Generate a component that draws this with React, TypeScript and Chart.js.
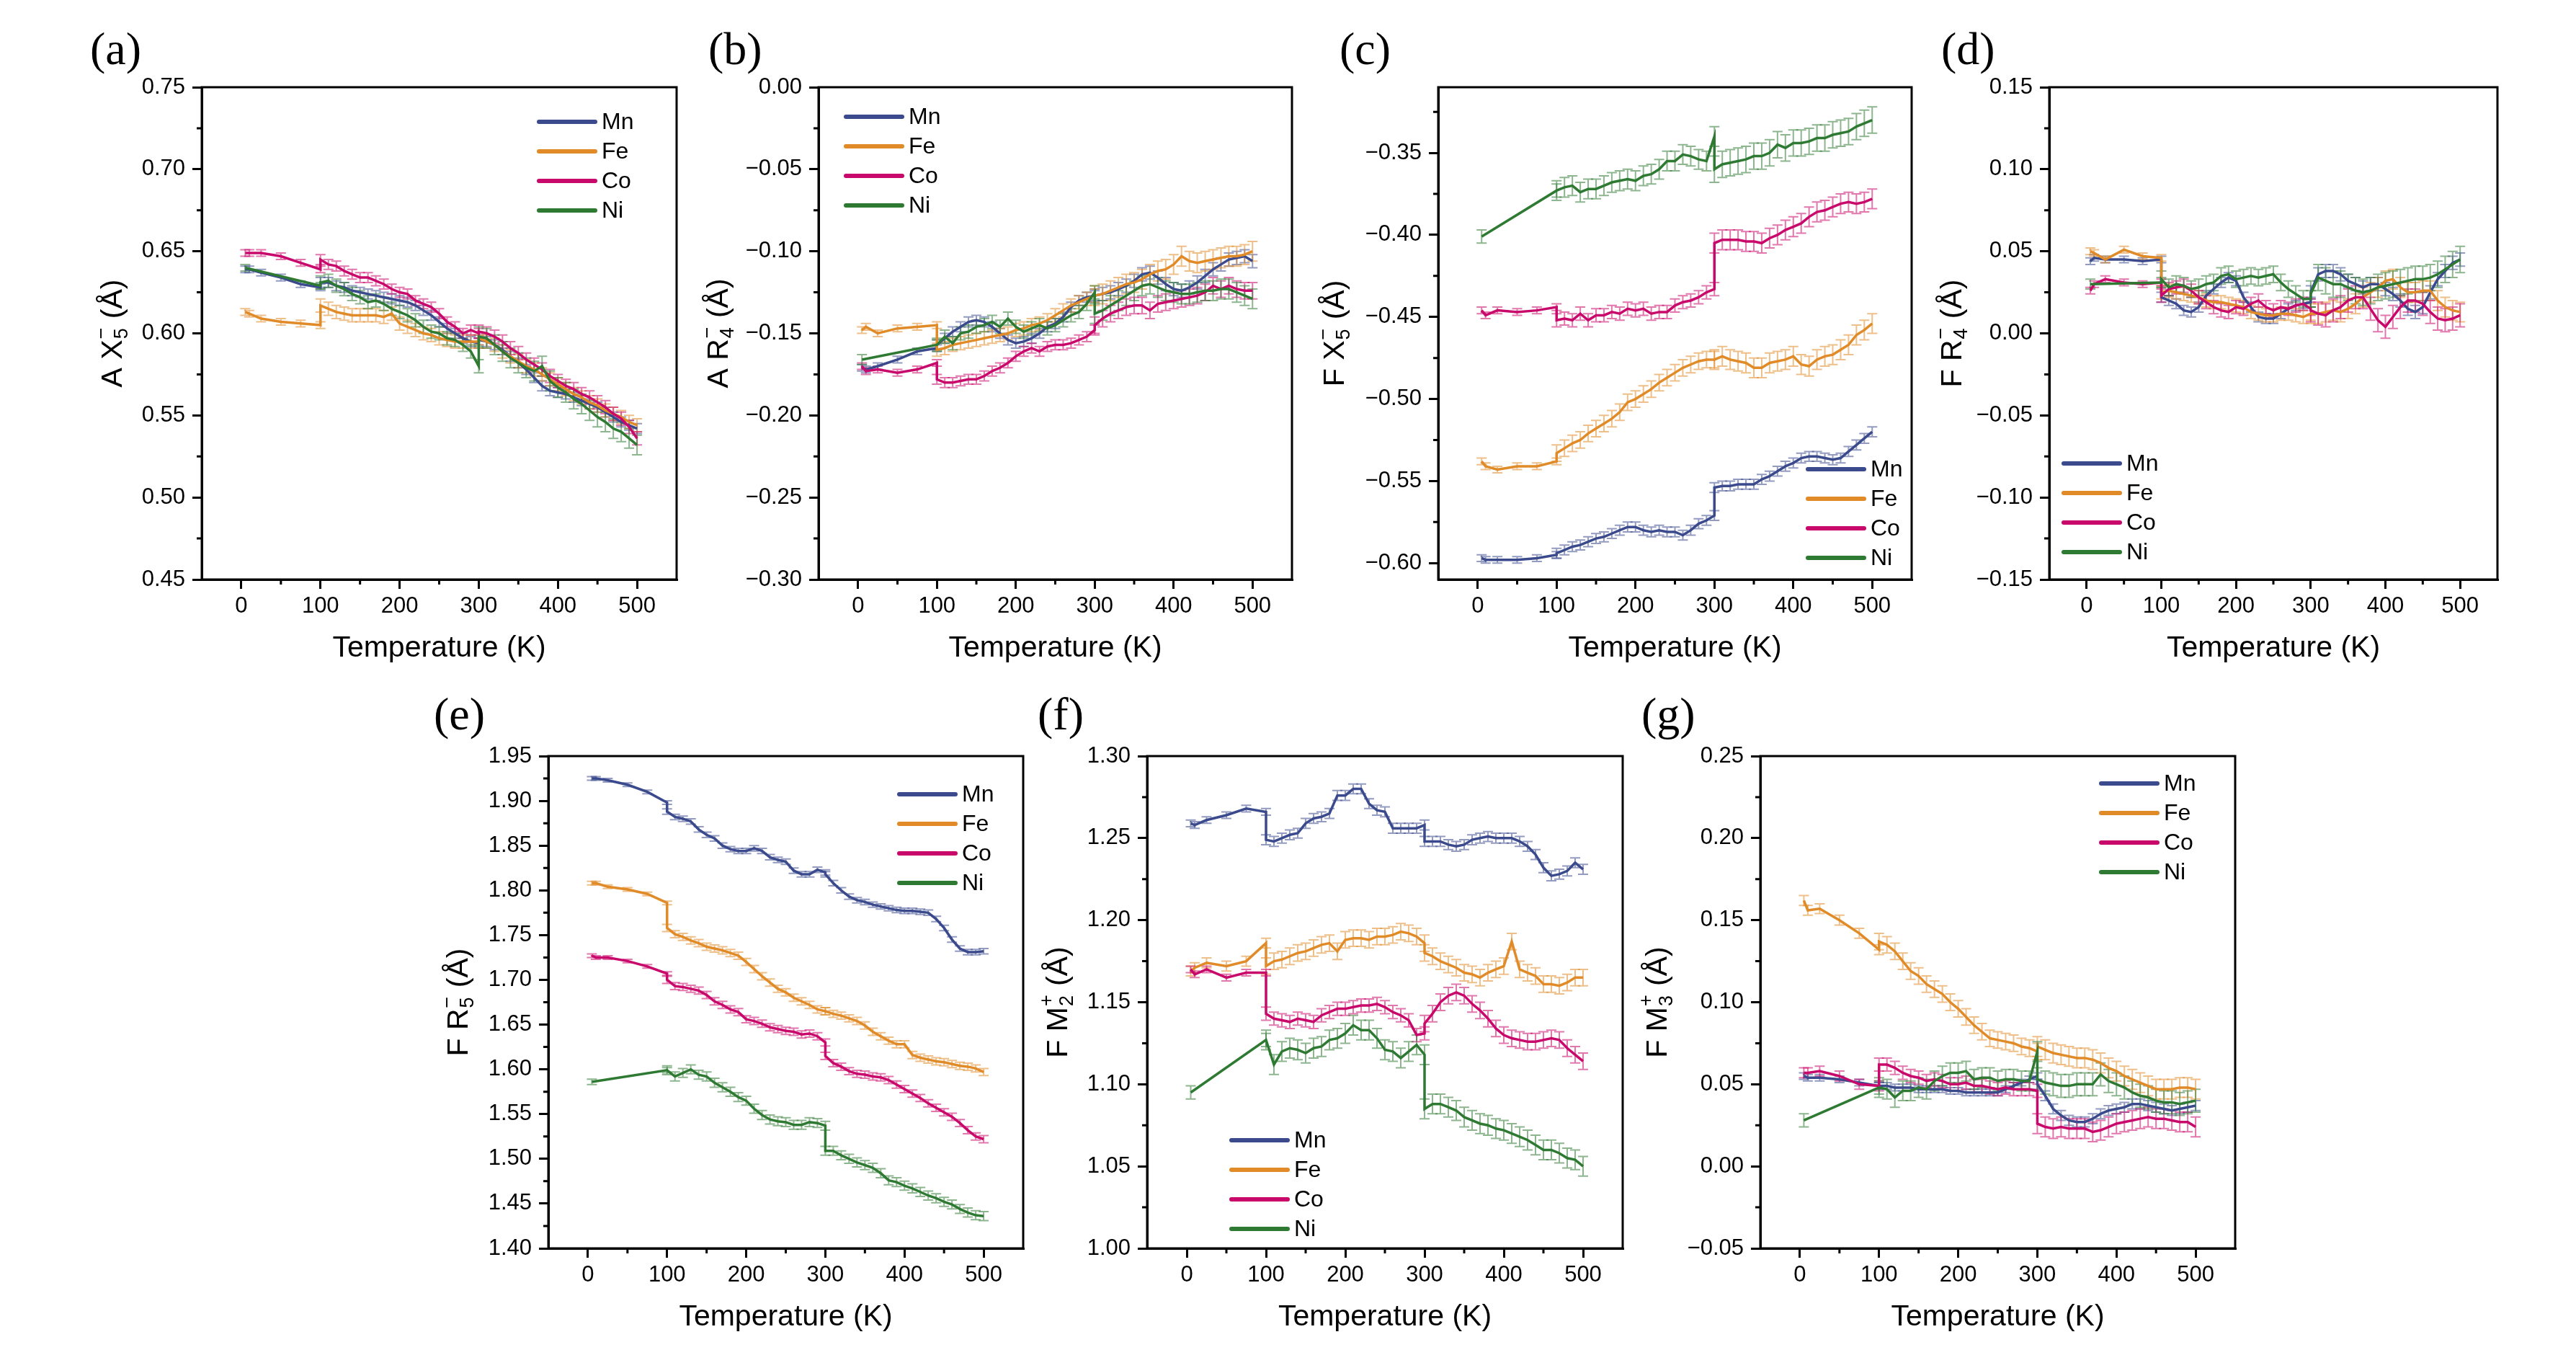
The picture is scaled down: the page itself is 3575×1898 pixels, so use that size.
import React, { useEffect, useRef } from "react";
import { Chart, registerables } from "chart.js";
Chart.register(...registerables);

// ---------- data ----------
const T = [5, 10, 25, 50, 75, 100,
  100, 110, 120, 130, 140, 150, 160, 170, 180, 190, 200, 210, 220, 230, 240, 250, 260, 270, 280, 290, 300,
  300, 310, 320, 330, 340, 350, 360, 370, 380, 390, 400, 410, 420, 430, 440, 450, 460, 470, 480, 490, 500];

const NAMES = ["Mn", "Fe", "Co", "Ni"];
const COLORS = ["#3a4a8c", "#e08a28", "#c8086a", "#2f7a33"];
const X_TICKS = [0, 100, 200, 300, 400, 500];

// (a) A X5-
const aMn = [0.639, 0.639, 0.637, 0.634, 0.630, 0.628, 0.631, 0.631, 0.629, 0.628, 0.626, 0.625, 0.624, 0.623, 0.622, 0.621, 0.620, 0.619, 0.617, 0.614, 0.611, 0.607, 0.603, 0.600, 0.597, 0.595, 0.594, 0.596, 0.595, 0.593, 0.590, 0.586, 0.582, 0.578, 0.573, 0.568, 0.565, 0.564, 0.563, 0.561, 0.559, 0.557, 0.555, 0.552, 0.549, 0.546, 0.544, 0.542];
const aFe = [0.613, 0.612, 0.609, 0.607, 0.606, 0.605, 0.617, 0.615, 0.613, 0.612, 0.611, 0.611, 0.611, 0.611, 0.610, 0.612, 0.606, 0.604, 0.602, 0.600, 0.599, 0.597, 0.596, 0.595, 0.595, 0.595, 0.595, 0.597, 0.595, 0.593, 0.589, 0.586, 0.583, 0.580, 0.578, 0.575, 0.572, 0.569, 0.566, 0.563, 0.561, 0.558, 0.556, 0.553, 0.551, 0.549, 0.546, 0.544];
const aCo = [0.649, 0.649, 0.649, 0.647, 0.643, 0.639, 0.645, 0.642, 0.641, 0.638, 0.636, 0.634, 0.634, 0.632, 0.630, 0.627, 0.625, 0.624, 0.620, 0.618, 0.616, 0.612, 0.607, 0.604, 0.600, 0.602, 0.600, 0.601, 0.600, 0.598, 0.595, 0.591, 0.588, 0.584, 0.581, 0.578, 0.574, 0.571, 0.568, 0.566, 0.563, 0.561, 0.558, 0.555, 0.551, 0.548, 0.543, 0.536];
const aNi = [0.640, null, null, null, null, 0.629, 0.631, 0.632, 0.629, 0.627, 0.624, 0.622, 0.619, 0.620, 0.618, 0.615, 0.613, 0.611, 0.608, 0.604, 0.601, 0.600, 0.597, 0.596, 0.593, 0.589, 0.580, 0.598, 0.597, 0.593, 0.589, 0.585, 0.582, 0.579, 0.577, 0.580, 0.571, 0.567, 0.564, 0.560, 0.557, 0.553, 0.549, 0.546, 0.542, 0.540, 0.536, 0.532];
const aErr = [[0.002, 0.003, 0.003], [0.002, 0.004, 0.004], [0.002, 0.003, 0.004], [0.002, 0.004, 0.006]];
const aTicks = [0.45, 0.50, 0.55, 0.60, 0.65, 0.70, 0.75];

// (b) A R4-
const bMn = [-0.171, -0.172, -0.170, -0.166, -0.161, -0.159, -0.157, -0.153, -0.149, -0.146, -0.143, -0.142, -0.143, -0.146, -0.150, -0.154, -0.156, -0.155, -0.153, -0.150, -0.146, -0.144, -0.140, -0.134, -0.130, -0.128, -0.127, -0.127, -0.126, -0.125, -0.123, -0.121, -0.118, -0.114, -0.113, -0.116, -0.120, -0.123, -0.124, -0.122, -0.119, -0.115, -0.111, -0.108, -0.105, -0.104, -0.103, -0.106];
const bFe = [-0.148, -0.146, -0.150, -0.147, -0.146, -0.145, -0.160, -0.159, -0.157, -0.156, -0.155, -0.154, -0.153, -0.152, -0.151, -0.150, -0.148, -0.147, -0.145, -0.144, -0.142, -0.139, -0.136, -0.133, -0.131, -0.129, -0.127, -0.127, -0.126, -0.124, -0.122, -0.120, -0.119, -0.117, -0.114, -0.112, -0.111, -0.108, -0.103, -0.106, -0.107, -0.106, -0.105, -0.104, -0.103, -0.103, -0.102, -0.100];
const bCo = [-0.170, -0.173, -0.172, -0.174, -0.172, -0.168, -0.178, -0.180, -0.180, -0.179, -0.178, -0.178, -0.176, -0.173, -0.171, -0.168, -0.164, -0.161, -0.159, -0.161, -0.158, -0.157, -0.157, -0.156, -0.154, -0.152, -0.148, -0.145, -0.141, -0.138, -0.136, -0.134, -0.133, -0.133, -0.136, -0.132, -0.131, -0.130, -0.129, -0.128, -0.127, -0.125, -0.121, -0.123, -0.121, -0.123, -0.124, -0.124];
const bNi = [-0.166, null, null, null, null, -0.157, -0.157, -0.152, -0.156, -0.150, -0.149, -0.146, -0.145, -0.143, -0.146, -0.141, -0.146, -0.149, -0.147, -0.145, -0.147, -0.145, -0.142, -0.139, -0.137, -0.132, -0.125, -0.138, -0.136, -0.133, -0.130, -0.127, -0.124, -0.121, -0.120, -0.122, -0.124, -0.125, -0.126, -0.126, -0.125, -0.124, -0.124, -0.123, -0.123, -0.125, -0.127, -0.129];
const bErr = [[0.002, 0.003, 0.004], [0.002, 0.004, 0.006], [0.002, 0.003, 0.005], [0.003, 0.004, 0.006]];
const bTicks = [-0.30, -0.25, -0.20, -0.15, -0.10, -0.05, 0.00];

// (c) F X5-
const cMn = [-0.597, -0.598, -0.598, -0.598, -0.597, -0.595, -0.594, -0.592, -0.590, -0.589, -0.587, -0.585, -0.584, -0.582, -0.580, -0.578, -0.578, -0.580, -0.581, -0.580, -0.581, -0.581, -0.583, -0.580, -0.576, -0.574, -0.571, -0.554, -0.553, -0.553, -0.552, -0.552, -0.552, -0.549, -0.547, -0.544, -0.541, -0.539, -0.536, -0.535, -0.535, -0.536, -0.537, -0.536, -0.532, -0.528, -0.524, -0.520];
const cFe = [-0.538, -0.541, -0.543, -0.541, -0.541, -0.538, -0.533, -0.530, -0.527, -0.525, -0.521, -0.518, -0.515, -0.512, -0.508, -0.502, -0.500, -0.497, -0.494, -0.490, -0.487, -0.484, -0.481, -0.479, -0.477, -0.476, -0.476, -0.476, -0.474, -0.476, -0.477, -0.478, -0.481, -0.481, -0.478, -0.477, -0.476, -0.474, -0.479, -0.480, -0.476, -0.474, -0.473, -0.470, -0.467, -0.461, -0.458, -0.454];
const cCo = [-0.446, -0.449, -0.446, -0.447, -0.446, -0.444, -0.452, -0.451, -0.452, -0.448, -0.452, -0.449, -0.449, -0.447, -0.448, -0.445, -0.446, -0.445, -0.448, -0.447, -0.447, -0.443, -0.441, -0.440, -0.438, -0.435, -0.433, -0.405, -0.403, -0.403, -0.403, -0.404, -0.404, -0.405, -0.402, -0.400, -0.397, -0.395, -0.393, -0.389, -0.386, -0.385, -0.383, -0.381, -0.380, -0.381, -0.380, -0.378];
const cNi = [-0.401, null, null, null, null, -0.373, -0.373, -0.371, -0.370, -0.374, -0.372, -0.372, -0.370, -0.368, -0.367, -0.366, -0.367, -0.364, -0.363, -0.360, -0.355, -0.355, -0.351, -0.352, -0.354, -0.355, -0.340, -0.360, -0.357, -0.356, -0.355, -0.354, -0.352, -0.352, -0.350, -0.345, -0.347, -0.344, -0.344, -0.343, -0.341, -0.341, -0.339, -0.338, -0.337, -0.334, -0.332, -0.330];
const cErr = [[0.002, 0.003, 0.003], [0.002, 0.005, 0.006], [0.002, 0.004, 0.006], [0.004, 0.006, 0.008]];
const cTicks = [-0.60, -0.55, -0.50, -0.45, -0.40, -0.35];

// (d) F R4-
const dMn = [0.044, 0.046, 0.045, 0.045, 0.044, 0.045, 0.022, 0.020, 0.018, 0.014, 0.013, 0.016, 0.023, 0.027, 0.031, 0.034, 0.032, 0.022, 0.016, 0.010, 0.009, 0.009, 0.012, 0.015, 0.017, 0.018, 0.019, 0.025, 0.036, 0.038, 0.038, 0.036, 0.032, 0.030, 0.028, 0.030, 0.030, 0.027, 0.024, 0.020, 0.015, 0.013, 0.016, 0.025, 0.033, 0.038, 0.043, 0.045];
const dFe = [0.050, 0.049, 0.045, 0.051, 0.047, 0.046, 0.025, 0.026, 0.025, 0.024, 0.023, 0.022, 0.020, 0.019, 0.019, 0.018, 0.017, 0.016, 0.013, 0.012, 0.011, 0.011, 0.012, 0.012, 0.011, 0.010, 0.012, 0.012, 0.012, 0.013, 0.014, 0.013, 0.015, 0.018, 0.022, 0.025, 0.028, 0.032, 0.033, 0.028, 0.025, 0.025, 0.026, 0.026, 0.020, 0.016, 0.014, 0.013];
const dCo = [0.026, 0.030, 0.033, 0.031, 0.030, 0.031, 0.023, 0.027, 0.028, 0.029, 0.026, 0.022, 0.019, 0.016, 0.014, 0.013, 0.016, 0.015, 0.018, 0.020, 0.016, 0.014, 0.016, 0.015, 0.017, 0.018, 0.015, 0.014, 0.012, 0.011, 0.014, 0.016, 0.020, 0.022, 0.022, 0.015, 0.008, 0.004, 0.010, 0.016, 0.020, 0.020, 0.018, 0.013, 0.009, 0.008, 0.009, 0.011];
const dNi = [0.030, null, null, null, null, 0.031, 0.033, 0.028, 0.030, 0.029, 0.027, 0.028, 0.030, 0.031, 0.035, 0.036, 0.033, 0.034, 0.035, 0.034, 0.035, 0.036, 0.031, 0.027, 0.024, 0.021, 0.021, 0.024, 0.034, 0.032, 0.030, 0.030, 0.028, 0.026, 0.025, 0.026, 0.028, 0.029, 0.030, 0.031, 0.032, 0.033, 0.033, 0.034, 0.036, 0.039, 0.042, 0.045];
const dErr = [[0.002, 0.003, 0.004], [0.002, 0.004, 0.006], [0.002, 0.004, 0.007], [0.003, 0.005, 0.008]];
const dTicks = [-0.15, -0.10, -0.05, 0.00, 0.05, 0.10, 0.15];

// (e) F R5-
const eMn = [1.925, 1.925, 1.923, 1.918, 1.910, 1.898, 1.888, 1.882, 1.880, 1.877, 1.868, 1.862, 1.858, 1.850, 1.846, 1.844, 1.844, 1.847, 1.844, 1.837, 1.834, 1.832, 1.822, 1.818, 1.818, 1.823, 1.820, 1.818, 1.808, 1.800, 1.793, 1.789, 1.787, 1.784, 1.782, 1.780, 1.778, 1.777, 1.777, 1.776, 1.775, 1.768, 1.758, 1.745, 1.735, 1.731, 1.731, 1.732];
const eFe = [1.808, 1.808, 1.804, 1.801, 1.796, 1.786, 1.758, 1.751, 1.748, 1.744, 1.741, 1.737, 1.735, 1.733, 1.730, 1.727, 1.720, 1.712, 1.704, 1.697, 1.690, 1.686, 1.680, 1.676, 1.672, 1.667, 1.665, 1.665, 1.662, 1.660, 1.657, 1.654, 1.649, 1.642, 1.637, 1.632, 1.628, 1.628, 1.616, 1.613, 1.611, 1.609, 1.608, 1.606, 1.604, 1.603, 1.601, 1.597];
const eCo = [1.727, 1.725, 1.725, 1.721, 1.715, 1.707, 1.700, 1.693, 1.692, 1.690, 1.688, 1.683, 1.676, 1.672, 1.667, 1.664, 1.656, 1.654, 1.651, 1.647, 1.645, 1.643, 1.642, 1.639, 1.640, 1.637, 1.630, 1.615, 1.607, 1.603, 1.598, 1.595, 1.594, 1.592, 1.591, 1.588, 1.583, 1.578, 1.573, 1.568, 1.562, 1.557, 1.552, 1.547, 1.540, 1.532, 1.525, 1.522];
const eNi = [1.586, null, null, null, null, 1.599, 1.599, 1.592, 1.596, 1.600, 1.594, 1.592, 1.585, 1.580, 1.575, 1.569, 1.565, 1.556, 1.549, 1.544, 1.542, 1.541, 1.538, 1.538, 1.541, 1.540, 1.537, 1.509, 1.509, 1.504, 1.500, 1.496, 1.493, 1.490, 1.484, 1.476, 1.474, 1.470, 1.467, 1.463, 1.459, 1.456, 1.452, 1.449, 1.444, 1.440, 1.437, 1.436];
const eErr = [[0.002, 0.003, 0.003], [0.002, 0.004, 0.004], [0.002, 0.004, 0.004], [0.003, 0.005, 0.005]];
const eTicks = [1.40, 1.45, 1.50, 1.55, 1.60, 1.65, 1.70, 1.75, 1.80, 1.85, 1.90, 1.95];

// (f) F M2+
const fMn = [1.259, 1.258, 1.261, 1.264, 1.268, 1.266, 1.249, 1.248, 1.250, 1.252, 1.253, 1.259, 1.262, 1.263, 1.265, 1.276, 1.276, 1.280, 1.280, 1.271, 1.267, 1.266, 1.256, 1.256, 1.256, 1.256, 1.258, 1.248, 1.248, 1.248, 1.246, 1.245, 1.246, 1.249, 1.250, 1.251, 1.250, 1.250, 1.250, 1.248, 1.245, 1.240, 1.232, 1.227, 1.228, 1.230, 1.235, 1.231];
const fFe = [1.169, 1.171, 1.174, 1.172, 1.175, 1.186, 1.172, 1.175, 1.176, 1.178, 1.180, 1.181, 1.183, 1.185, 1.186, 1.181, 1.188, 1.189, 1.189, 1.188, 1.190, 1.190, 1.191, 1.193, 1.192, 1.190, 1.186, 1.180, 1.178, 1.175, 1.173, 1.171, 1.168, 1.167, 1.165, 1.168, 1.170, 1.172, 1.187, 1.170, 1.168, 1.166, 1.161, 1.161, 1.160, 1.162, 1.165, 1.165];
const fCo = [1.170, 1.167, 1.170, 1.165, 1.168, 1.168, 1.143, 1.140, 1.139, 1.138, 1.140, 1.139, 1.138, 1.142, 1.144, 1.146, 1.146, 1.147, 1.148, 1.148, 1.149, 1.147, 1.144, 1.142, 1.139, 1.130, 1.131, 1.137, 1.143, 1.150, 1.154, 1.156, 1.154, 1.149, 1.145, 1.140, 1.134, 1.130, 1.128, 1.127, 1.126, 1.126, 1.127, 1.128, 1.127, 1.122, 1.118, 1.114];
const fNi = [1.095, null, null, null, null, 1.127, 1.127, 1.112, 1.120, 1.122, 1.121, 1.119, 1.122, 1.123, 1.127, 1.128, 1.131, 1.136, 1.133, 1.133, 1.128, 1.121, 1.120, 1.116, 1.120, 1.124, 1.118, 1.085, 1.088, 1.088, 1.086, 1.084, 1.080, 1.078, 1.076, 1.075, 1.073, 1.072, 1.070, 1.068, 1.066, 1.063, 1.060, 1.060, 1.058, 1.055, 1.054, 1.050];
const fErr = [[0.002, 0.003, 0.003], [0.003, 0.005, 0.005], [0.002, 0.004, 0.005], [0.004, 0.006, 0.006]];
const fTicks = [1.00, 1.05, 1.10, 1.15, 1.20, 1.25, 1.30];

// (g) F M3+
const gMn = [0.055, 0.054, 0.054, 0.053, 0.051, 0.049, 0.049, 0.049, 0.048, 0.048, 0.048, 0.047, 0.047, 0.047, 0.047, 0.046, 0.046, 0.045, 0.045, 0.045, 0.045, 0.045, 0.047, 0.049, 0.051, 0.053, 0.055, 0.050, 0.043, 0.035, 0.031, 0.028, 0.027, 0.027, 0.029, 0.032, 0.034, 0.035, 0.036, 0.038, 0.038, 0.037, 0.036, 0.035, 0.034, 0.035, 0.036, 0.037];
const gFe = [0.162, 0.156, 0.157, 0.150, 0.142, 0.132, 0.137, 0.135, 0.131, 0.125, 0.119, 0.116, 0.111, 0.108, 0.105, 0.100, 0.096, 0.091, 0.086, 0.082, 0.078, 0.077, 0.076, 0.075, 0.073, 0.072, 0.070, 0.073, 0.071, 0.069, 0.068, 0.067, 0.066, 0.066, 0.065, 0.063, 0.060, 0.058, 0.055, 0.053, 0.051, 0.049, 0.047, 0.047, 0.047, 0.048, 0.048, 0.047];
const gCo = [0.057, 0.057, 0.058, 0.055, 0.050, 0.049, 0.062, 0.062, 0.060, 0.057, 0.055, 0.054, 0.052, 0.053, 0.052, 0.050, 0.050, 0.051, 0.049, 0.049, 0.048, 0.047, 0.048, 0.047, 0.047, 0.047, 0.046, 0.026, 0.024, 0.023, 0.024, 0.023, 0.023, 0.023, 0.021, 0.022, 0.024, 0.026, 0.027, 0.028, 0.029, 0.030, 0.029, 0.029, 0.028, 0.027, 0.027, 0.024];
const gNi = [0.028, null, null, null, null, 0.048, 0.048, 0.047, 0.042, 0.046, 0.046, 0.048, 0.047, 0.052, 0.055, 0.057, 0.057, 0.058, 0.053, 0.054, 0.054, 0.052, 0.053, 0.053, 0.052, 0.052, 0.070, 0.053, 0.051, 0.050, 0.049, 0.049, 0.050, 0.050, 0.050, 0.056, 0.052, 0.050, 0.048, 0.045, 0.043, 0.042, 0.040, 0.039, 0.039, 0.038, 0.039, 0.040];
const gErr = [[0.002, 0.002, 0.003], [0.003, 0.005, 0.006], [0.003, 0.004, 0.006], [0.004, 0.006, 0.007]];
const gTicks = [-0.05, 0.00, 0.05, 0.10, 0.15, 0.20, 0.25];

// ---------- layout ----------
type Panel = {
  id: string; L: number; R: number; T: number; B: number;
  ymin: number; ymax: number; yticks: number[];
  series: (number | null)[][]; err: number[][];
  pre: string; sym: string; sub: string; sup: string;
  legDx: number; legDy: number; titleDx: number;
  label: string; labelDx: number; labelDy: number;
};

const MINUS = "\u2212";
const PANELS: Panel[] = [
  { id: "a", L: 280, R: 939, T: 121, B: 804, ymin: 0.45, ymax: 0.75, yticks: aTicks, series: [aMn, aFe, aCo, aNi], err: aErr, pre: "A", sym: "X", sub: "5", sup: MINUS, legDx: 468, legDy: 48, titleDx: 125, label: "(a)", labelDx: -155, labelDy: -32 },
  { id: "b", L: 1136, R: 1793, T: 121, B: 804, ymin: -0.30, ymax: 0.0, yticks: bTicks, series: [bMn, bFe, bCo, bNi], err: bErr, pre: "A", sym: "R", sub: "4", sup: MINUS, legDx: 38, legDy: 41, titleDx: 140, label: "(b)", labelDx: -153, labelDy: -32 },
  { id: "c", L: 1996, R: 2653, T: 121, B: 804, ymin: -0.61, ymax: -0.31, yticks: cTicks, series: [cMn, cFe, cCo, cNi], err: cErr, pre: "F", sym: "X", sub: "5", sup: MINUS, legDx: 513, legDy: 530, titleDx: 145, label: "(c)", labelDx: -137, labelDy: -32 },
  { id: "d", L: 2844, R: 3466, T: 121, B: 804, ymin: -0.15, ymax: 0.15, yticks: dTicks, series: [dMn, dFe, dCo, dNi], err: dErr, pre: "F", sym: "R", sub: "4", sup: MINUS, legDx: 20, legDy: 522, titleDx: 136, label: "(d)", labelDx: -150, labelDy: -32 },
  { id: "e", L: 761, R: 1420, T: 1049, B: 1732, ymin: 1.40, ymax: 1.95, yticks: eTicks, series: [eMn, eFe, eCo, eNi], err: eErr, pre: "F", sym: "R", sub: "5", sup: MINUS, legDx: 487, legDy: 53, titleDx: 126, label: "(e)", labelDx: -159, labelDy: -37 },
  { id: "f", L: 1592, R: 2252, T: 1049, B: 1732, ymin: 1.00, ymax: 1.30, yticks: fTicks, series: [fMn, fFe, fCo, fNi], err: fErr, pre: "F", sym: "M", sub: "2", sup: "+", legDx: 117, legDy: 533, titleDx: 125, label: "(f)", labelDx: -152, labelDy: -37 },
  { id: "g", L: 2443, R: 3102, T: 1049, B: 1732, ymin: -0.05, ymax: 0.25, yticks: gTicks, series: [gMn, gFe, gCo, gNi], err: gErr, pre: "F", sym: "M", sub: "3", sup: "+", legDx: 473, legDy: 38, titleDx: 144, label: "(g)", labelDx: -165, labelDy: -37 },
];

const M_LEFT = 180, M_TOP = 100, M_RIGHT = 20, M_BOTTOM = 135;
const Y_W = 150, X_H = 60;
const SANS = "'Liberation Sans', Arial, sans-serif";
const SERIF = "'Liberation Serif', 'Times New Roman', serif";

function rgba(hex: string, a: number) {
  const n = parseInt(hex.slice(1), 16);
  return `rgba(${(n >> 16) & 255},${(n >> 8) & 255},${n & 255},${a})`;
}

function fmtY(v: number) {
  const s = Math.abs(v).toFixed(2);
  return v < -1e-9 ? MINUS + s : s;
}

function makeDecor(p: Panel) {
  return {
    id: "decor" + p.id,
    beforeDatasetsDraw(chart: any) {
      const { ctx, chartArea: a, scales } = chart;
      const x = scales.x, y = scales.y;
      ctx.save();
      ctx.beginPath();
      ctx.rect(a.left, a.top, a.right - a.left, a.bottom - a.top);
      ctx.clip();
      ctx.lineWidth = 2;
      p.series.forEach((vals, k) => {
        ctx.strokeStyle = rgba(COLORS[k], 0.55);
        vals.forEach((v, i) => {
          if (v === null) return;
          const e = p.err[k][i < 6 ? 0 : i < 27 ? 1 : 2];
          const px = x.getPixelForValue(T[i]);
          const y1 = y.getPixelForValue(v + e);
          const y2 = y.getPixelForValue(v - e);
          ctx.beginPath();
          ctx.moveTo(px, y1); ctx.lineTo(px, y2);
          ctx.moveTo(px - 7, y1); ctx.lineTo(px + 7, y1);
          ctx.moveTo(px - 7, y2); ctx.lineTo(px + 7, y2);
          ctx.stroke();
        });
      });
      ctx.restore();
    },
    afterDraw(chart: any) {
      const { ctx, chartArea: a, scales } = chart;
      const x = scales.x, y = scales.y;
      ctx.save();
      // frame
      ctx.strokeStyle = "#000";
      ctx.lineWidth = 3;
      ctx.strokeRect(a.left, a.top, a.right - a.left, a.bottom - a.top);
      // minor ticks
      const step = p.yticks[1] - p.yticks[0];
      const minors: number[] = [];
      minors.push(p.yticks[0] - step / 2);
      p.yticks.forEach((m) => minors.push(m + step / 2));
      ctx.beginPath();
      minors.forEach((m) => {
        if (m < p.ymin - 1e-9 || m > p.ymax + 1e-9) return;
        const py = y.getPixelForValue(m);
        ctx.moveTo(a.left, py); ctx.lineTo(a.left - 7, py);
      });
      [50, 150, 250, 350, 450].forEach((m) => {
        const px = x.getPixelForValue(m);
        ctx.moveTo(px, a.bottom); ctx.lineTo(px, a.bottom + 7);
      });
      ctx.stroke();

      // x title
      ctx.fillStyle = "#000";
      ctx.font = `41px ${SANS}`;
      ctx.textAlign = "center";
      ctx.textBaseline = "middle";
      ctx.fillText("Temperature (K)", (a.left + a.right) / 2, a.bottom + 96);

      // y title (rotated, with stacked sub/superscript)
      ctx.save();
      ctx.translate(a.left - p.titleDx, (a.top + a.bottom) / 2);
      ctx.rotate(-Math.PI / 2);
      ctx.textAlign = "left";
      ctx.textBaseline = "alphabetic";
      const big = `41px ${SANS}`, small = `27px ${SANS}`;
      ctx.font = big;
      const part1 = p.pre + " " + p.sym;
      const w1 = ctx.measureText(part1).width;
      ctx.font = small;
      const w2 = Math.max(ctx.measureText(p.sub).width, ctx.measureText(p.sup).width);
      ctx.font = big;
      const part3 = " (\u00C5)";
      const w3 = ctx.measureText(part3).width;
      const total = w1 + w2 + 2 + w3;
      let cxp = -total / 2;
      const base = 14;
      ctx.fillText(part1, cxp, base);
      cxp += w1 + 1;
      ctx.font = small;
      ctx.fillText(p.sub, cxp, base + 8);
      ctx.fillText(p.sup, cxp, base - 20);
      cxp += w2 + 1;
      ctx.font = big;
      ctx.fillText(part3, cxp, base);
      ctx.restore();

      // legend
      ctx.font = `32px ${SANS}`;
      ctx.textAlign = "left";
      ctx.textBaseline = "middle";
      NAMES.forEach((nm, k) => {
        const ly = a.top + p.legDy + k * 41;
        const lx = a.left + p.legDx;
        ctx.strokeStyle = COLORS[k];
        ctx.lineWidth = 6;
        ctx.lineCap = "round";
        ctx.beginPath();
        ctx.moveTo(lx, ly); ctx.lineTo(lx + 78, ly);
        ctx.stroke();
        ctx.fillStyle = "#000";
        ctx.fillText(nm, lx + 87, ly + 1);
      });

      // panel label
      ctx.font = `64px ${SERIF}`;
      ctx.textBaseline = "alphabetic";
      ctx.fillText(p.label, a.left + p.labelDx, a.top + p.labelDy);
      ctx.restore();
    },
  };
}

function PanelChart({ p }: { p: Panel }) {
  const ref = useRef<HTMLCanvasElement>(null);
  const cw = p.R - p.L + M_LEFT + M_RIGHT;
  const ch = p.B - p.T + M_TOP + M_BOTTOM;
  useEffect(() => {
    const cv = ref.current;
    if (!cv) return;
    const tickFont = { family: SANS, size: 31 };
    const grid = { display: true, drawOnChartArea: false, drawTicks: true, tickLength: 13, tickWidth: 3, tickColor: "#000", color: "#000", lineWidth: 3 };
    const chart = new Chart(cv, {
      type: "line",
      data: {
        datasets: p.series.map((vals, k) => ({
          label: NAMES[k],
          data: T.map((t, i) => ({ x: t, y: vals[i] })),
          borderColor: COLORS[k],
          backgroundColor: COLORS[k],
          borderWidth: 3.5,
          pointRadius: 0,
          tension: 0,
          spanGaps: true,
          order: 3 - k,
        })),
      },
      options: {
        responsive: false,
        animation: false,
        devicePixelRatio: 1,
        layout: { padding: { left: M_LEFT - Y_W, top: M_TOP, right: M_RIGHT, bottom: M_BOTTOM - X_H } },
        plugins: { legend: { display: false }, tooltip: { enabled: false } },
        scales: {
          x: {
            type: "linear", min: -50, max: 550,
            afterBuildTicks: (s: any) => { s.ticks = X_TICKS.map((v) => ({ value: v })); },
            afterFit: (s: any) => { s.height = X_H; },
            ticks: { font: tickFont, color: "#000", padding: 6, maxRotation: 0, autoSkip: false, callback: (v: any) => String(v) },
            grid,
            border: { display: true, color: "#000", width: 3 },
          },
          y: {
            type: "linear", min: p.ymin, max: p.ymax,
            afterBuildTicks: (s: any) => { s.ticks = p.yticks.map((v) => ({ value: v })); },
            afterFit: (s: any) => { s.width = Y_W; },
            ticks: { font: tickFont, color: "#000", padding: 10, autoSkip: false, callback: (v: any) => fmtY(Number(v)) },
            grid,
            border: { display: true, color: "#000", width: 3 },
          },
        },
      } as any,
      plugins: [makeDecor(p)],
    } as any);
    return () => chart.destroy();
  }, [p]);
  return (
    <canvas
      ref={ref}
      width={cw}
      height={ch}
      style={{ position: "absolute", left: p.L - M_LEFT, top: p.T - M_TOP, width: cw, height: ch }}
    />
  );
}

export default function App() {
  return (
    <div style={{ position: "fixed", left: 0, top: 0, width: 3575, height: 1898, background: "#fff", overflow: "hidden" }}>
      {PANELS.map((p) => (
        <PanelChart key={p.id} p={p} />
      ))}
    </div>
  );
}
